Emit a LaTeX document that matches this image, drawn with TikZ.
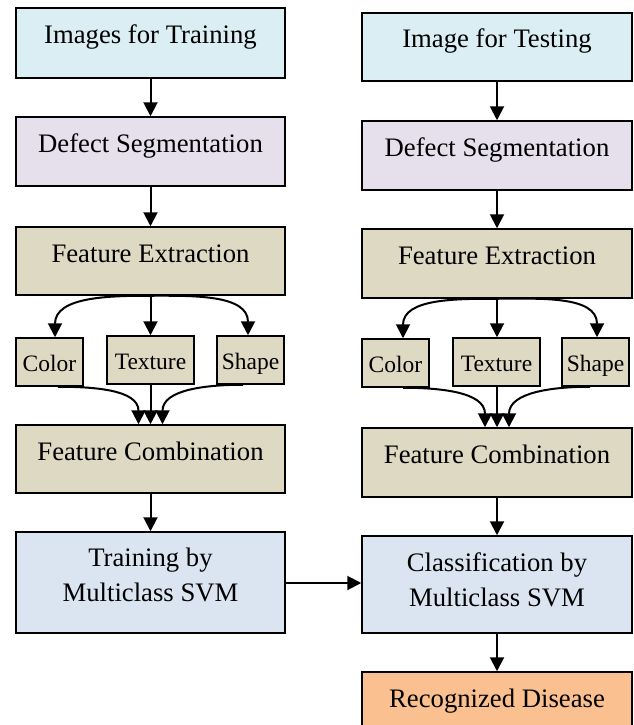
\documentclass[tikz,border=0pt]{standalone}
\usepackage{fontspec}
\setmainfont{Liberation Serif}
\usetikzlibrary{arrows.meta,calc}
\definecolor{cyanbox}{HTML}{DAEEF3}
\definecolor{lavbox}{HTML}{E5E0EC}
\definecolor{tanbox}{HTML}{DDD9C3}
\definecolor{bluebox}{HTML}{DBE5F1}
\definecolor{orangebox}{HTML}{FAC090}
\begin{document}
\begin{tikzpicture}[x=1pt,y=1pt,
  box/.style={draw=black,line width=1.5pt,rectangle,inner sep=0pt,
    font=\fontsize{26.7}{35}\selectfont,text height=10pt,text depth=8pt},
  lbig/.style={box,minimum width=269pt,minimum height=#1},
  rbig/.style={box,minimum width=270pt,minimum height=#1},
  small/.style={box,font=\fontsize{23.5}{28}\selectfont,minimum height=48pt,
    text height=18pt,text depth=0pt},
  arr/.style={line width=2pt,-{Triangle[width=14pt,length=14pt]}}]
\useasboundingbox (0,0) rectangle (634,-725);
\clip (0,0) rectangle (634,-725);
% left column
\node[lbig=70pt,fill=cyanbox] (A1) at (150.5,-43) {Images for Training};
\node[lbig=69pt,fill=lavbox] (A2) at (150.5,-151.5) {Defect Segmentation};
\node[lbig=68pt,fill=tanbox] (A3) at (150.5,-261) {Feature Extraction};
\node[small,fill=tanbox,minimum width=67pt] (CL) at (49.5,-362) {Color};
\node[small,fill=tanbox,minimum width=87pt] (TL) at (150.5,-360) {Texture};
\node[small,fill=tanbox,minimum width=67pt] (SL) at (250.5,-360) {Shape};
\node[lbig=68pt,fill=tanbox] (A4) at (150.5,-459) {Feature Combination};
\node[lbig=101pt,fill=bluebox,text height=38pt,text depth=0pt] (A5) at (150.5,-582.5)
  {\begin{tabular}[b]{@{}c@{}}Training by\\Multiclass SVM\end{tabular}};
% right column
\node[rbig=68pt,fill=cyanbox] (B1) at (497,-47) {Image for Testing};
\node[rbig=69pt,fill=lavbox] (B2) at (497,-155.5) {Defect Segmentation};
\node[rbig=69pt,fill=tanbox] (B3) at (497,-263.5) {Feature Extraction};
\node[small,fill=tanbox,minimum width=67pt] (CR) at (395.5,-363) {Color};
\node[small,fill=tanbox,minimum width=87pt] (TR) at (496.5,-362) {Texture};
\node[small,fill=tanbox,minimum width=67pt] (SR) at (595.5,-362) {Shape};
\node[rbig=69pt,fill=tanbox] (B4) at (497,-462.5) {Feature Combination};
\node[rbig=97pt,fill=bluebox,text height=44pt,text depth=0pt] (B5) at (497,-584.5)
  {\begin{tabular}[b]{@{}c@{}}Classification by\\Multiclass SVM\end{tabular}};
\node[rbig=68pt,fill=orangebox] (B6) at (497,-706) {Recognized Disease};
% left arrows
\draw[arr] (A1.south) -- (A2.north);
\draw[arr] (A2.south) -- (A3.north);
\draw[arr] (A3.south) to[out=180,in=90] ([xshift=5.5pt]CL.north);
\draw[arr] (A3.south) -- (TL.north);
\draw[arr] (A3.south) to[out=0,in=90] ([xshift=-2.5pt]SL.north);
\draw[arr] ([xshift=8.5pt]CL.south) to[out=0,in=90] ([xshift=-12pt]A4.north);
\draw[arr] (TL.south) -- (A4.north);
\draw[arr] ([xshift=-7.5pt]SL.south) to[out=180,in=90] ([xshift=12pt]A4.north);
\draw[arr] (A4.south) -- (A5.north);
% right arrows
\draw[arr] (B1.south) -- (B2.north);
\draw[arr] (B2.south) -- (B3.north);
\draw[arr] (B3.south) to[out=180,in=90] ([xshift=7.5pt]CR.north);
\draw[arr] (B3.south) -- (TR.north -| B3.south);
\draw[arr] (B3.south) to[out=0,in=90] ([xshift=1.5pt]SR.north);
\draw[arr] ([xshift=7.5pt]CR.south) to[out=0,in=90] ([xshift=-12pt]B4.north);
\draw[arr] (TR.south -| B4.north) -- (B4.north);
\draw[arr] ([xshift=-5.5pt]SR.south) to[out=180,in=90] ([xshift=12pt]B4.north);
\draw[arr] (B4.south) -- (B5.north);
\draw[arr] (B5.south) -- (B6.north);
% cross arrow
\draw[arr] ([yshift=-0.5pt]A5.east) -- ([yshift=-0.5pt]A5.east -| B5.west);
\end{tikzpicture}
\end{document}
